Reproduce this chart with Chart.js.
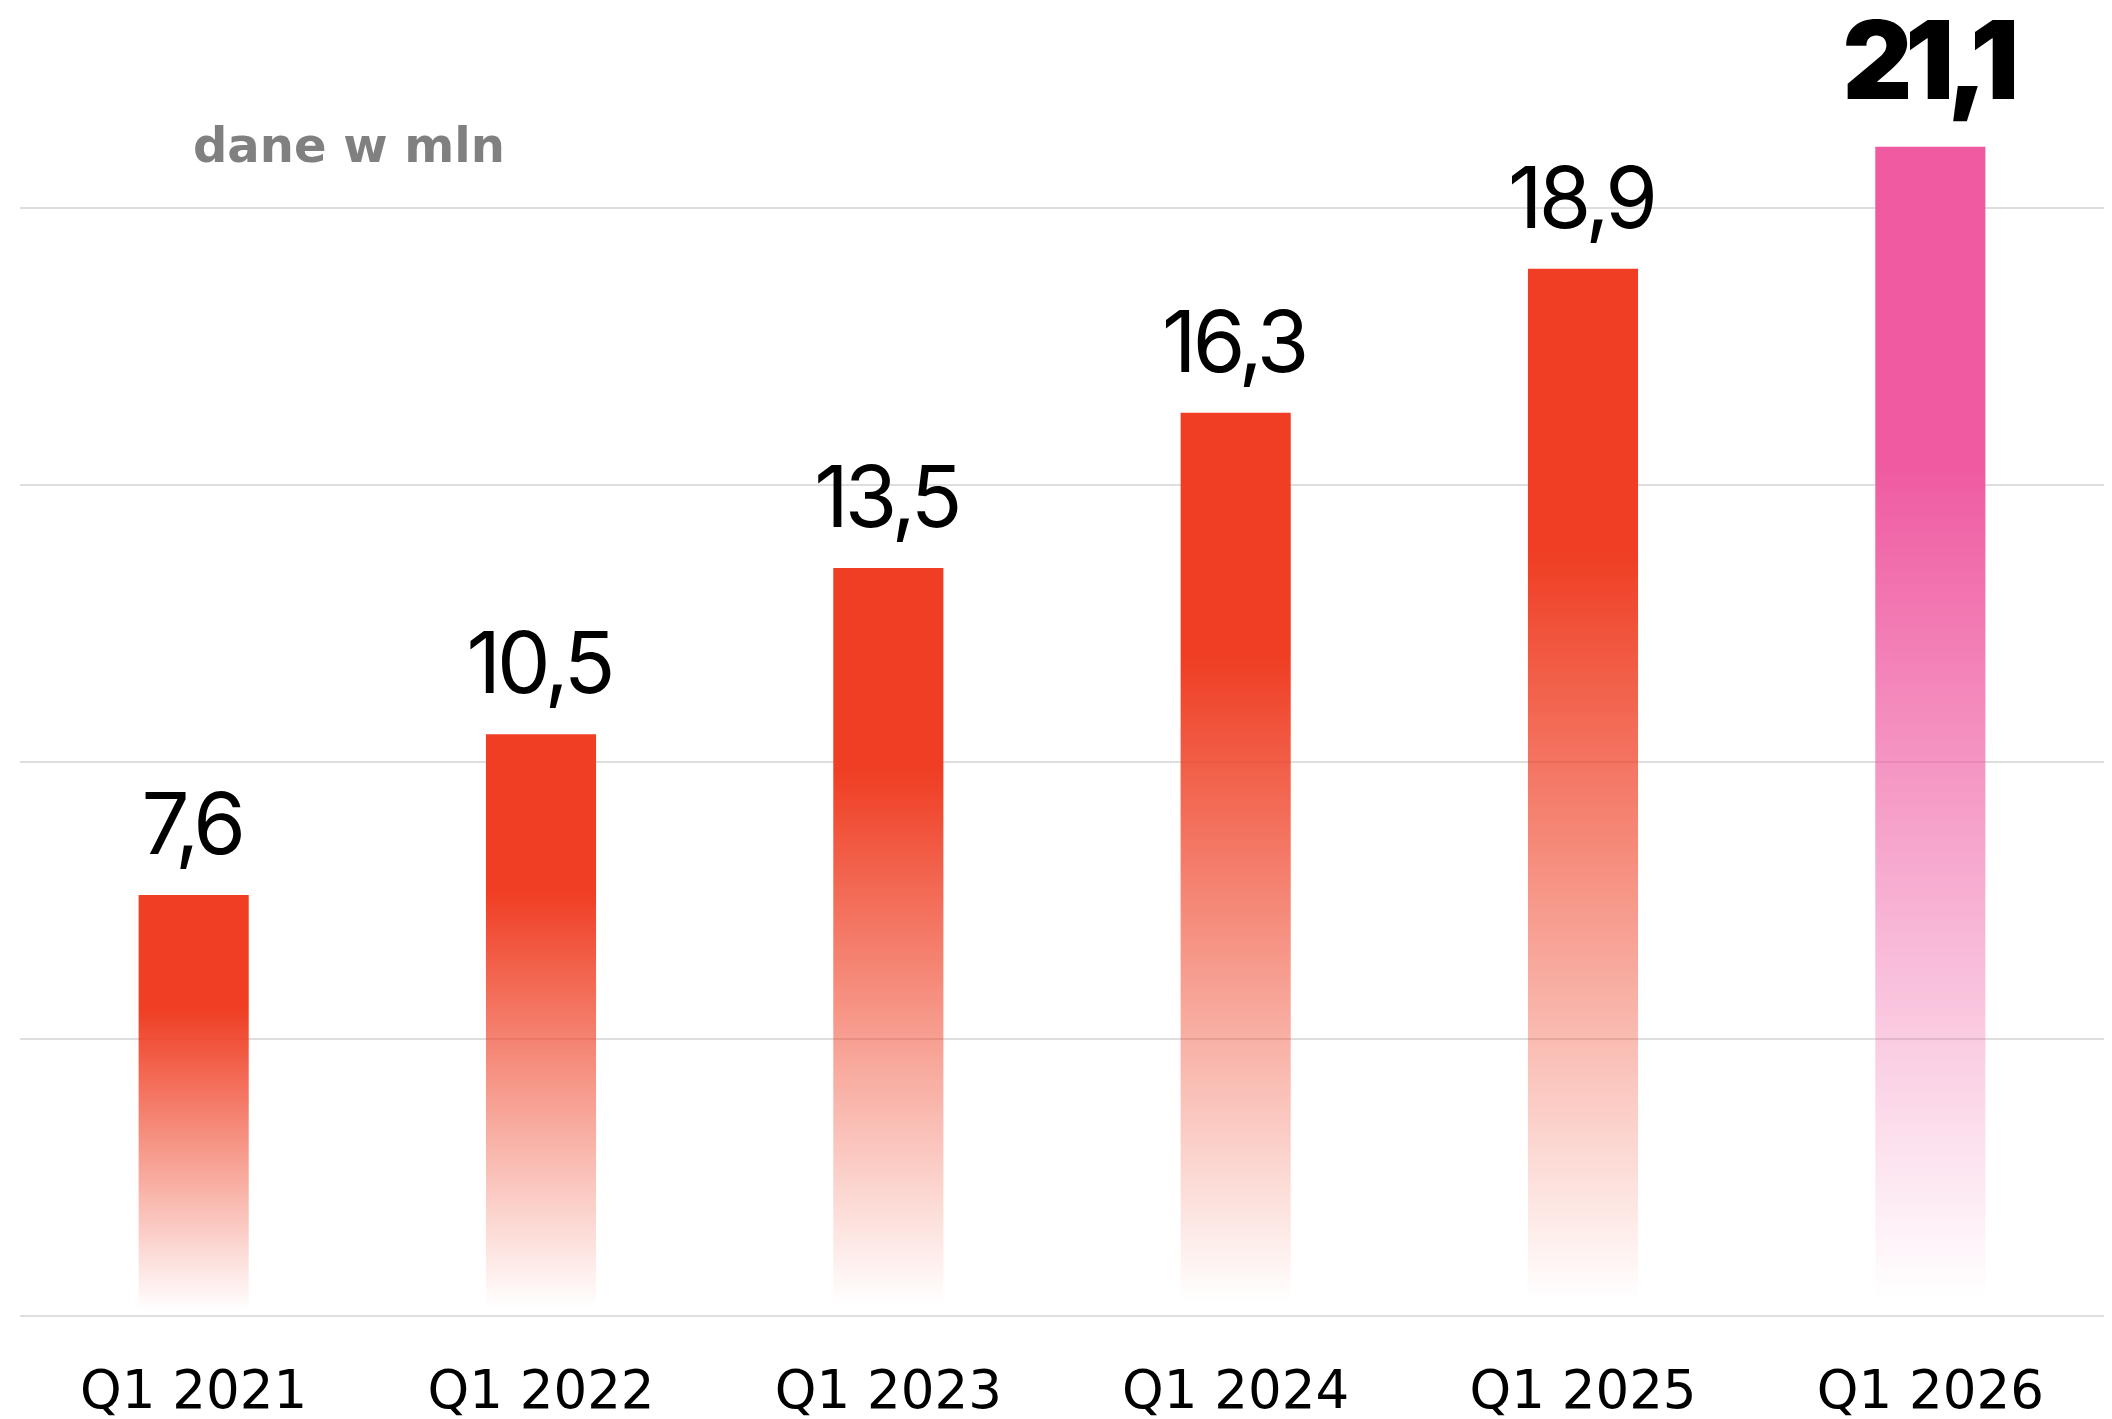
<!DOCTYPE html>
<html>
<head>
<meta charset="utf-8">
<title>dane w mln</title>
<script src="https://cdn.jsdelivr.net/npm/chart.js@4.4.1/dist/chart.umd.min.js"></script>
<style>
    html, body { margin: 0; padding: 0; background: #fff; }
    #wrap { width: 2112px; height: 1419px; position: relative; }
</style>
</head>
<body>
<div id="wrap"><canvas id="myChart"></canvas></div>
<script>
var labels = ["Q1 2021", "Q1 2022", "Q1 2023", "Q1 2024", "Q1 2025", "Q1 2026"];
var values = [7.6, 10.5, 13.5, 16.3, 18.9, 21.1];
var valueLabels = ["7,6", "10,5", "13,5", "16,3", "18,9", "21,1"];
var unitLabel = "dane w mln";

var RED = [239, 62, 35];
var PINK = [239, 90, 161];

function rgba(c, a) {
    return "rgba(" + c[0] + "," + c[1] + "," + c[2] + "," + a + ")";
}

function barFill(context) {
    var chart = context.chart;
    var area = chart.chartArea;
    if (!area || context.dataIndex === undefined) {
        return rgba(RED, 1);
    }
    var yScale = chart.scales.y;
    var top = yScale.getPixelForValue(values[context.dataIndex]);
    var base = yScale.getPixelForValue(0);
    var c = context.dataIndex === values.length - 1 ? PINK : RED;
    var g = chart.ctx.createLinearGradient(0, top, 0, base);
    g.addColorStop(0, rgba(c, 1));
    g.addColorStop(0.27, rgba(c, 1));
    g.addColorStop(0.985, rgba(c, 0));
    g.addColorStop(1, rgba(c, 0));
    return g;
}

var valueLabelPlugin = {
    id: "valueLabels",
    afterDatasetsDraw: function(chart) {
        var ctx = chart.ctx;
        var meta = chart.getDatasetMeta(0);
        ctx.save();
        ctx.textAlign = "center";
        ctx.textBaseline = "alphabetic";
        ctx.fillStyle = "#000";
        meta.data.forEach(function(bar, i) {
            var last = i === values.length - 1;
            if (last) {
                ctx.font = "900 108px Inter";
                ctx.letterSpacing = "-7px";
                ctx.fillText(valueLabels[i], bar.x - 3, bar.y - 48);
            } else {
                ctx.font = "400 85px Inter";
                ctx.letterSpacing = "-4px";
                ctx.fillText(valueLabels[i], bar.x - 2, bar.y - 41);
            }
        });
        ctx.letterSpacing = "0px";
        ctx.font = "bold 48px 'DejaVu Sans'";
        ctx.fillStyle = "#808080";
        ctx.textAlign = "left";
        ctx.fillText(unitLabel, 193, 162);
        ctx.restore();
    }
};

var chart = new Chart(document.getElementById("myChart"), {
    type: "bar",
    data: {
        labels: labels,
        datasets: [{
            data: values,
            backgroundColor: barFill,
            borderWidth: 0,
            barPercentage: 1,
            categoryPercentage: 0.317
        }]
    },
    options: {
        responsive: true,
        maintainAspectRatio: false,
        animation: false,
        devicePixelRatio: 1,
        layout: { padding: { left: 20, right: 8, top: 0, bottom: 0 } },
        plugins: {
            legend: { display: false },
            tooltip: { enabled: false }
        },
        scales: {
            x: {
                grid: { display: false },
                border: { display: false },
                ticks: {
                    color: "#000",
                    padding: 38,
                    font: { family: "'DejaVu Sans'", size: 53 }
                },
                afterFit: function(axis) {
                    axis.height = 103;
                }
            },
            y: {
                display: true,
                min: 0,
                max: 23.75,
                border: { display: false },
                grid: { color: "#dedede", lineWidth: 2, drawTicks: false },
                ticks: { display: false, stepSize: 5 },
                afterBuildTicks: function(axis) {
                    axis.ticks = axis.ticks.filter(function(t) { return t.value % 5 === 0; });
                },
                afterFit: function(axis) {
                    axis.width = 0;
                }
            }
        }
    },
    plugins: [valueLabelPlugin]
});
</script>
</body>
</html>
